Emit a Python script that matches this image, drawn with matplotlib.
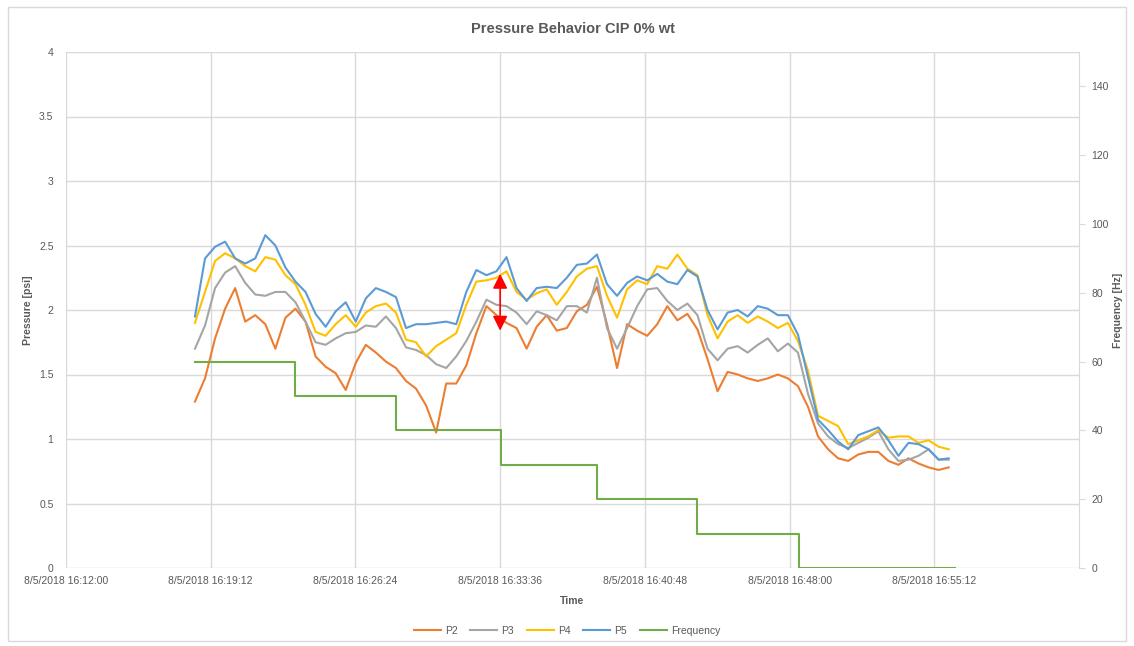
import matplotlib
matplotlib.use("Agg")
import matplotlib.pyplot as plt
from matplotlib.patches import Rectangle
import pandas as pd

plt.rcParams['font.family'] = ['Liberation Sans', 'DejaVu Sans']

# pressure samples every 30 s starting 16:18:25
start = "2018-08-05 16:18:25"
p2 = [1.29, 1.47, 1.78, 2.01, 2.17, 1.91, 1.96, 1.89, 1.70, 1.94, 2.01, 1.91, 1.64,
      1.56, 1.51, 1.38, 1.59, 1.73, 1.67, 1.60, 1.55, 1.45, 1.39, 1.26, 1.05,
      1.43, 1.43, 1.57, 1.82, 2.03, 1.96, 1.90, 1.86, 1.70, 1.87, 1.96, 1.84, 1.86,
      1.99, 2.04, 2.18, 1.89, 1.55, 1.89, 1.84, 1.80, 1.89, 2.03, 1.92, 1.97,
      1.85, 1.62, 1.37, 1.52, 1.50, 1.47, 1.45, 1.47, 1.50, 1.47, 1.41, 1.25, 1.02,
      0.92, 0.85, 0.83, 0.88, 0.90, 0.90, 0.83, 0.80, 0.85, 0.81, 0.78, 0.76, 0.78]
p3 = [1.70, 1.88, 2.17, 2.29, 2.34, 2.21, 2.12, 2.11, 2.14, 2.14, 2.06, 1.91, 1.75,
      1.73, 1.78, 1.82, 1.83, 1.88, 1.87, 1.95, 1.86, 1.71, 1.69, 1.65, 1.58,
      1.55, 1.64, 1.76, 1.91, 2.08, 2.04, 2.03, 1.98, 1.89, 1.99, 1.96, 1.92, 2.03,
      2.03, 1.98, 2.25, 1.86, 1.70, 1.86, 2.03, 2.16, 2.17, 2.07, 2.00, 2.05,
      1.96, 1.70, 1.61, 1.70, 1.72, 1.67, 1.73, 1.78, 1.68, 1.74, 1.67, 1.35, 1.12,
      1.02, 0.96, 0.93, 0.97, 1.01, 1.06, 0.92, 0.83, 0.84, 0.87, 0.92, 0.84, 0.84]
p4 = [1.90, 2.14, 2.38, 2.44, 2.40, 2.34, 2.30, 2.41, 2.39, 2.27, 2.20, 2.04, 1.83,
      1.80, 1.89, 1.96, 1.87, 1.98, 2.03, 2.05, 1.98, 1.77, 1.75, 1.64, 1.72,
      1.77, 1.82, 2.04, 2.22, 2.23, 2.25, 2.30, 2.14, 2.08, 2.13, 2.16, 2.04, 2.14,
      2.26, 2.32, 2.34, 2.11, 1.94, 2.16, 2.23, 2.20, 2.34, 2.32, 2.43, 2.32,
      2.27, 1.96, 1.78, 1.91, 1.96, 1.90, 1.95, 1.91, 1.86, 1.90, 1.76, 1.53, 1.18,
      1.14, 1.10, 0.96, 0.99, 1.02, 1.07, 1.01, 1.02, 1.02, 0.97, 0.99, 0.94, 0.92]
p5 = [1.95, 2.40, 2.49, 2.53, 2.40, 2.36, 2.40, 2.58, 2.50, 2.33, 2.22, 2.14, 1.97,
      1.87, 1.99, 2.06, 1.91, 2.09, 2.17, 2.14, 2.10, 1.86, 1.89, 1.89, 1.90,
      1.91, 1.89, 2.14, 2.31, 2.27, 2.30, 2.41, 2.17, 2.07, 2.17, 2.18, 2.17, 2.25,
      2.35, 2.36, 2.43, 2.20, 2.11, 2.21, 2.26, 2.23, 2.28, 2.22, 2.20, 2.31,
      2.26, 2.00, 1.85, 1.98, 2.00, 1.95, 2.03, 2.01, 1.96, 1.96, 1.81, 1.48, 1.15,
      1.07, 0.98, 0.92, 1.03, 1.06, 1.09, 0.99, 0.87, 0.97, 0.96, 0.92, 0.84, 0.85]

freq_times = ["16:18:25", "16:23:25", "16:28:25", "16:33:38", "16:38:25",
              "16:43:25", "16:48:27", "16:56:15"]
freq_vals = [60, 50, 40, 30, 20, 10, 0, 0]

times = pd.date_range(start, periods=len(p2), freq="30s")
ftimes = pd.to_datetime(["2018-08-05 " + t for t in freq_times])

grey = "#595959"
fig = plt.figure(figsize=(11.34, 6.46), dpi=100)
fig.patches.append(Rectangle((0.007, 0.008), 0.986, 0.981, transform=fig.transFigure,
                             fill=False, edgecolor="#d9d9d9", lw=1))
ax = fig.add_axes([66 / 1134, 1 - 568 / 646, 1013 / 1134, 516 / 646])

ax.plot(times, p2, color="#ED7D31", lw=1.5, label="P2")
ax.plot(times, p3, color="#A5A5A5", lw=1.5, label="P3")
ax.plot(times, p4, color="#FFC000", lw=1.5, label="P4")
ax.plot(times, p5, color="#5B9BD5", lw=1.5, label="P5")

ax2 = ax.twinx()
ax2.plot(ftimes, freq_vals, color="#70AD47", lw=1.5, drawstyle="steps-post", label="Frequency")

# red double arrow
t_arrow = pd.Timestamp("2018-08-05 16:33:36")
ax.annotate("", xy=(t_arrow, 1.84), xytext=(t_arrow, 2.28),
            arrowprops=dict(arrowstyle="<|-|>", color="red", lw=1.2,
                            mutation_scale=22, shrinkA=0, shrinkB=0), zorder=5)

x0 = pd.Timestamp("2018-08-05 16:12:00")
x1 = pd.Timestamp("2018-08-05 17:02:24")
ticks = pd.date_range(x0, periods=7, freq="432s")
ax.set_xlim(x0, x1)
ax.set_xticks(ticks)
ax.set_xticklabels([f"{t.month}/{t.day}/{t.year} {t:%H:%M:%S}" for t in ticks])
ax.set_ylim(0, 4)
ax.set_yticks([0, 0.5, 1, 1.5, 2, 2.5, 3, 3.5, 4])
ax.set_yticklabels(["0", "0.5", "1", "1.5", "2", "2.5", "3", "3.5", "4"])
ax2.set_ylim(0, 150)
ax2.set_yticks(range(0, 141, 20))

ax.grid(True, color="#d9d9d9", lw=1)
ax.set_axisbelow(True)
for a in (ax, ax2):
    for s in a.spines.values():
        s.set_visible(False)
ax2.spines["right"].set_visible(True)
ax2.spines["right"].set_color("#d9d9d9")
ax.tick_params(axis="both", length=0, labelsize=7.5, colors=grey, pad=6)
ax.tick_params(axis="y", pad=9)
ax2.tick_params(axis="y", length=4, color="#d9d9d9", labelsize=7.5, labelcolor=grey, pad=5)

ax.set_title("Pressure Behavior CIP 0% wt", fontsize=10.5, fontweight="bold", color=grey, pad=14)
ax.set_xlabel("Time", fontsize=7.5, fontweight="bold", color=grey, labelpad=7)
ax.set_ylabel("Pressure [psi]", fontsize=7.5, fontweight="bold", color=grey, labelpad=4)
ax2.set_ylabel("Frequency [Hz]", fontsize=7.5, fontweight="bold", color=grey, labelpad=3)

h1, l1 = ax.get_legend_handles_labels()
h2, l2 = ax2.get_legend_handles_labels()
fig.legend(h1 + h2, l1 + l2, loc="center", bbox_to_anchor=(0.5, 1 - 631 / 646), ncol=5,
           frameon=False, fontsize=7.5, labelcolor=grey, handlelength=2.6,
           columnspacing=1.2, handletextpad=0.4)

fig.savefig("out.png", dpi=100)
